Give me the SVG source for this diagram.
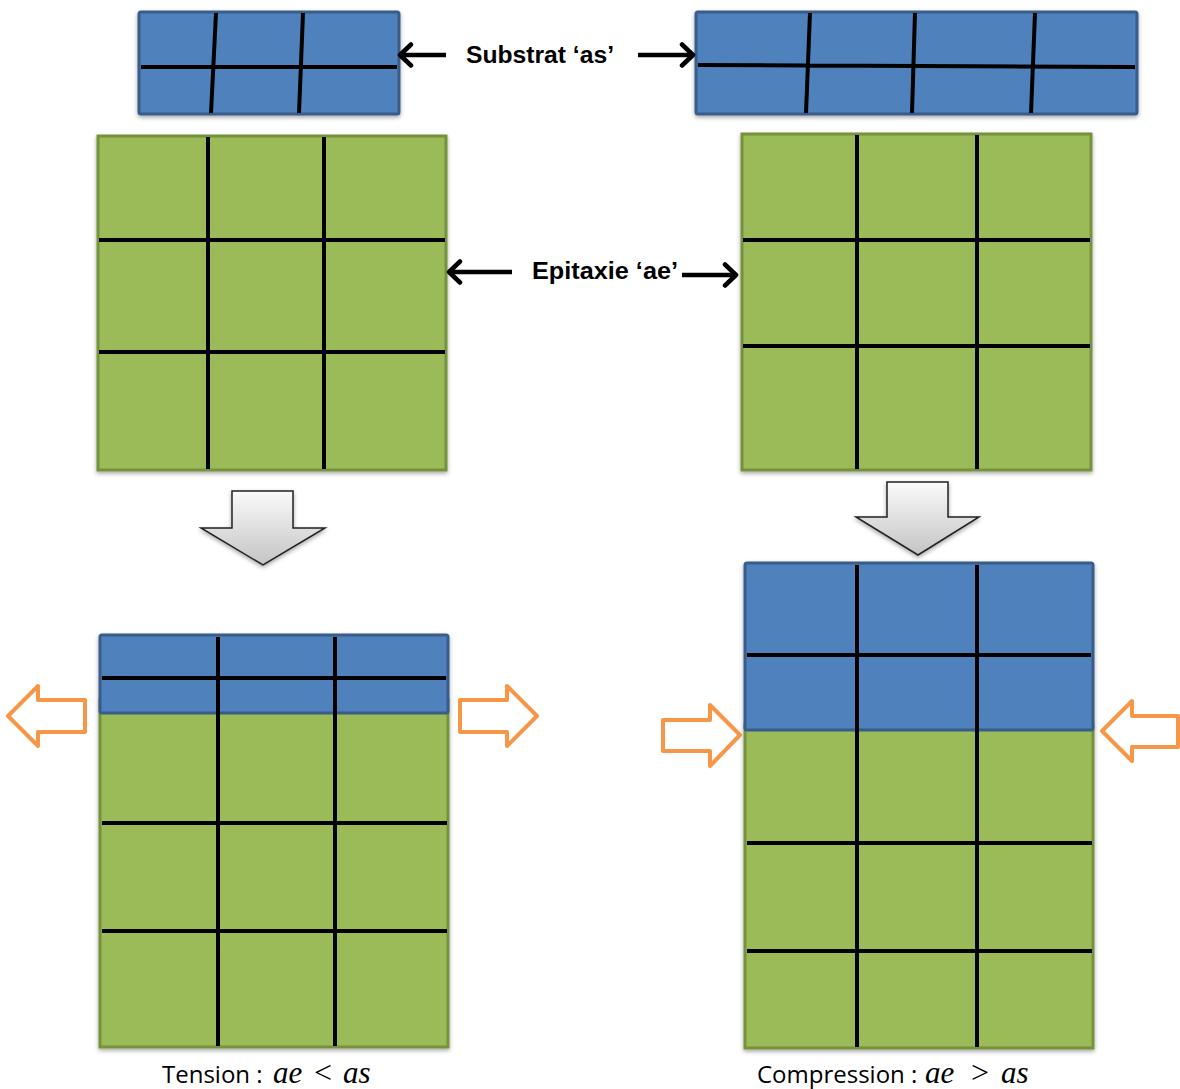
<svg xmlns="http://www.w3.org/2000/svg" width="1180" height="1089" viewBox="0 0 1180 1089">
<style>
.blue{fill:#4f81bd;stroke:#385d8a;stroke-width:3}
.green{fill:#9bbb59;stroke:#76923c;stroke-width:3}
.grid{stroke:#000;stroke-width:4;fill:none}
.lbl{font-family:"Liberation Sans",Arial,sans-serif;font-weight:bold;font-size:23px;fill:#000}
.cap{font-family:"Open Sans","Liberation Sans",Arial,sans-serif;font-size:24px;fill:#000}
.math{font-family:"Liberation Serif","Times New Roman",serif;font-style:italic;font-size:31px}
.op{font-family:"Liberation Serif","Times New Roman",serif;font-size:32px}
.conn{stroke:#000;stroke-width:4.5;fill:none}
.orange{fill:#fff;stroke:#f79646;stroke-width:4;stroke-linejoin:round}
.down{fill:url(#g);stroke:#222;stroke-width:1.5}
</style>
<defs>
<marker id="ah" markerUnits="userSpaceOnUse" markerWidth="18" markerHeight="26" viewBox="0 0 18 26" refX="15" refY="13" orient="auto">
<path d="M4,2.5 L15,13 L4,23.5" fill="none" stroke="#000" stroke-width="4.5" stroke-linecap="round" stroke-linejoin="round"/>
</marker>
<linearGradient id="g" x1="0" y1="0" x2="0" y2="1">
<stop offset="0" stop-color="#fafafa"/>
<stop offset="1" stop-color="#c4c4c4"/>
</linearGradient>
<filter id="sh" x="-5%" y="-5%" width="110%" height="115%">
<feDropShadow dx="0" dy="2" stdDeviation="2" flood-color="#000" flood-opacity="0.35"/>
</filter>
</defs>

<g id="substrat-left" filter="url(#sh)">
<rect class="blue" x="139" y="12" width="260" height="102" rx="2"/>
<path class="grid" d="M141,67 H397 M216,13 L211,113 M303,13 L299,113"/>
</g>

<g id="substrat-right" filter="url(#sh)">
<rect class="blue" x="696" y="12" width="441" height="102" rx="2"/>
<path class="grid" d="M698,65 L1135,67 M810,13 L806,113 M915,13 L912,113 M1035,13 L1031,113"/>
</g>

<g id="epitaxie-left" filter="url(#sh)">
<rect class="green" x="98" y="136" width="348" height="334"/>
<path class="grid" d="M99,240 H445 M99,352 H445 M208,137 V469 M324,137 V469"/>
</g>

<g id="epitaxie-right" filter="url(#sh)">
<rect class="green" x="742" y="134" width="349" height="336"/>
<path class="grid" d="M743,240 H1090 M743,346 H1090 M857,135 V469 M977,135 V469"/>
</g>

<g id="label-substrat">
<text class="lbl" x="466" y="63" textLength="148" lengthAdjust="spacingAndGlyphs">Substrat ‘as’</text>
</g>
<g id="label-epitaxie">
<text class="lbl" x="532" y="279" textLength="146" lengthAdjust="spacingAndGlyphs">Epitaxie ‘ae’</text>
</g>

<g id="result-tension" filter="url(#sh)">
<rect class="green" x="100" y="700" width="348" height="347"/>
<rect class="blue" x="100" y="635" width="348" height="78" rx="2"/>
<path class="grid" d="M102,678 H446 M102,823 H447 M102,931 H447 M218,637 V1046 M335,637 V1046"/>
</g>

<g id="result-compression" filter="url(#sh)">
<rect class="green" x="745" y="725" width="348" height="323"/>
<rect class="blue" x="745" y="563" width="348" height="167" rx="2"/>
<path class="grid" d="M747,655 H1091 M747,843 H1092 M747,951 H1092 M857,565 V1047 M977,565 V1047"/>
</g>

<g id="force-tension">
<path class="orange" d="M8,716 L38,686 V700 H85 V732 H38 V746 Z"/>
<path class="orange" d="M537,716 L507,686 V700 H460 V732 H507 V746 Z"/>
</g>

<g id="force-compression">
<path class="orange" d="M740,735 L710,705 V720 H663 V751 H710 V766 Z"/>
<path class="orange" d="M1102,731 L1132,701 V716 H1178 V747 H1132 V761 Z"/>
</g>

<g id="connectors">
<line class="conn" x1="446" y1="55" x2="400" y2="55" marker-end="url(#ah)"/>
<line class="conn" x1="638" y1="55" x2="693" y2="55" marker-end="url(#ah)"/>
<line class="conn" x1="512" y1="272" x2="449" y2="272" marker-end="url(#ah)"/>
<line class="conn" x1="682" y1="275" x2="736" y2="275" marker-end="url(#ah)"/>
<path class="down" filter="url(#sh)" d="M232,491 H293 V528 H325 L263,565 L201,528 H232 Z"/>
<path class="down" filter="url(#sh)" d="M887,482 H948 V517 H979 L918,555 L856,517 H887 Z"/>
</g>

<g id="caption-tension">
<text class="cap" y="1083"><tspan x="162">Tension :</tspan><tspan class="math" x="273">ae</tspan><tspan class="op" x="314">&lt;</tspan><tspan class="math" x="343">as</tspan></text>
</g>
<g id="caption-compression">
<text class="cap" y="1083"><tspan x="757">Compression :</tspan><tspan class="math" x="925">ae</tspan><tspan class="op" x="971">&gt;</tspan><tspan class="math" x="1001">as</tspan></text>
</g>
</svg>
